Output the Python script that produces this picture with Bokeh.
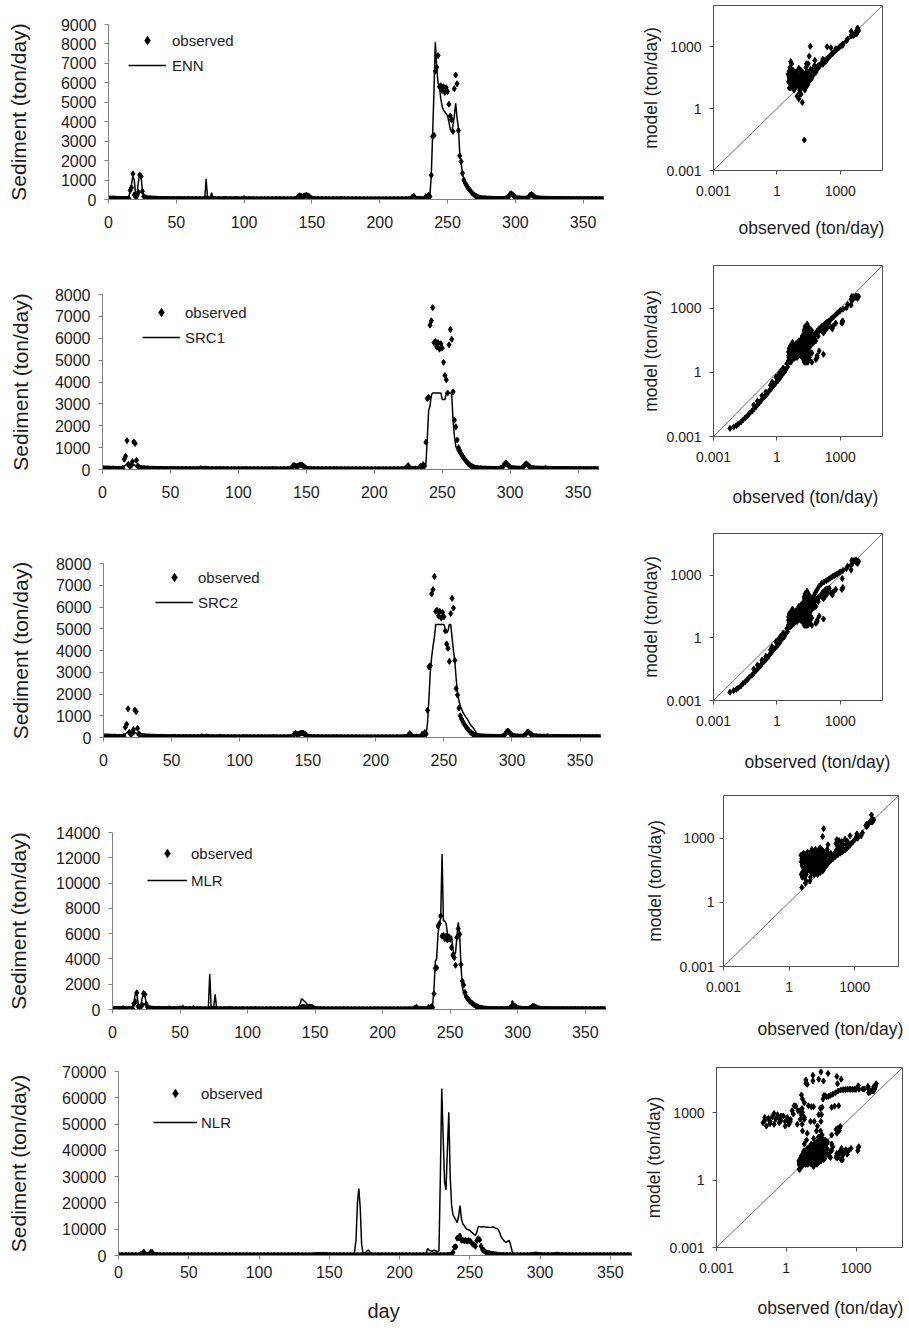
from bokeh.plotting import figure
from bokeh.layouts import column, row
from bokeh.models import (Legend, LegendItem, FixedTicker, Range1d, Title,
                          PrintfTickFormatter, CustomJSTickFormatter)
from bokeh.embed import file_html
from bokeh.resources import INLINE

# ---------------- data (ton/day, daily, day 1..365) ----------------
observed = [
    42, 38, 35, 40, 33, 30, 28, 31, 27, 25,
    24, 26, 22, 21, 55, 470, 610, 1320, 240, 150,
    190, 360, 1260, 1190, 420, 160, 90, 70, 56, 48,
    44, 40, 37, 35, 33, 30, 29, 27, 26, 24,
    23, 22, 25, 21, 20, 19, 18, 20, 17, 16,
    18, 26, 15, 14, 16, 13, 12, 14, 22, 11,
    10, 12, 9.5, 9, 11, 8.5, 8, 9, 7.5, 7,
    12, 38, 30, 16, 11, 34, 24, 13, 9, 8,
    7.5, 7, 6.5, 10, 14, 25, 12, 9, 8, 7,
    6.5, 6, 5.5, 5, 6, 7, 5.5, 5, 4.8, 4.5,
    5, 6, 8, 11, 9, 7, 6, 5.5, 5, 4.6,
    4.3, 4, 4.5, 5, 6, 5, 4.5, 4.2, 4, 3.8,
    3.6, 4, 5, 7, 10, 8, 6, 5, 4.5, 4.2,
    4, 3.8, 3.6, 3.5, 4, 6, 9, 15, 60, 150,
    190, 160, 140, 170, 200, 210, 190, 150, 90, 40,
    25, 18, 14, 11, 9, 8, 7, 6.5, 6, 5.5,
    5, 4.8, 4.6, 4.4, 6, 5.5, 5, 4.8, 4.5, 7,
    14, 8, 5, 4.4, 4, 3.2, 2.6, 2.2, 1.8, 1.5,
    1.3, 1.1, 0.9, 0.75, 0.6, 0.5, 0.42, 0.35, 0.3, 0.25,
    0.2, 0.17, 0.14, 0.12, 0.1, 0.08, 0.065, 0.05, 0.04, 0.032,
    0.025, 0.02, 0.015, 0.012, 0.009, 0.006, 0.3, 0.9, 0.5, 0.2,
    0.12, 0.08, 0.2, 0.6, 1.5, 3, 2, 1.2, 4, 6,
    9, 12, 30, 120, 180, 90, 30, 15, 25, 31,
    14, 7, 40, 150, 63, 230, 160, 1250, 3250, 3300,
    6600, 6800, 7400, 5800, 5850, 5600, 5800, 5500, 5750, 5550,
    4900, 4300, 4100, 3500, 5700, 6400, 5950, 3550, 2250, 1950,
    1350, 1000, 850, 720, 600, 520, 430, 350, 280, 220,
    170, 130, 100, 80, 65, 55, 48, 42, 38, 35,
    33, 31, 30, 28, 27, 26, 25, 24, 23, 22,
    24, 30, 45, 80, 150, 260, 300, 240, 160, 100,
    70, 55, 45, 40, 36, 33, 31, 40, 80, 150,
    230, 260, 200, 140, 90, 60, 48, 42, 38, 35,
    33, 31, 30, 29, 28, 27, 26, 25, 25, 24,
    23, 23, 22, 22, 21, 21, 20, 20, 19, 19,
    18, 18, 18, 17, 17, 16, 16, 16, 15, 15,
    15, 14, 14, 14, 13, 13, 13, 12, 12, 12,
    12, 11, 11, 11, 10,
]

enn = [
    60, 45, 30, 55, 40, 25, 35, 20, 32, 18,
    30, 15, 28, 12, 90, 500, 800, 1200, 1000, 250,
    200, 900, 1300, 1150, 500, 200, 110, 60, 75, 40,
    60, 28, 50, 22, 45, 38, 18, 40, 14, 30,
    35, 12, 40, 30, 0.03, 25, 33, 15, 28, 22,
    10, 45, 20, 5, 30, 18, 8, 25, 40, 16,
    30, 6, 25, 40, 3, 60, 20, 4, 50, 15,
    80, 1050, 150, 60, 90, 350, 100, 40, 30, 60,
    20, 45, 8, 35, 70, 150, 25, 50, 12, 40,
    55, 10, 30, 150, 45, 20, 35, 60, 25, 190,
    30, 60, 15, 40, 25, 50, 12, 35, 80, 20,
    28, 45, 10, 70, 30, 18, 40, 100, 25, 35,
    50, 20, 60, 30, 45, 15, 70, 25, 40, 55,
    30, 65, 20, 45, 35, 25, 50, 60, 120, 200,
    220, 180, 160, 190, 210, 200, 180, 140, 90, 50,
    30, 45, 20, 35, 15, 25, 40, 10, 30, 20,
    25, 15, 35, 12, 30, 20, 40, 18, 25, 35,
    45, 30, 20, 15, 10, -10, -20, -15, -30, -25,
    -40, -35, -20, -45, -30, -50, -40, -35, -50, -45,
    -40, -55, -60, -45, -50, -65, -55, -60, -50, -45,
    -55, -60, -50, -65, -55, -60, -40, -30, -35, -45,
    -50, -45, -40, -30, -20, -10, -15, -25, 10, 20,
    30, 15, 50, 150, 200, 120, 60, 20, 35, 25,
    15, 40, 80, 180, 220, 240, 200, 1250, 3300, 5600,
    8100, 6800, 6000, 5800, 5200, 4800, 4600, 4500, 4400, 4300,
    4000, 3600, 3500, 3800, 4300, 4950, 4200, 3700, 2400, 1900,
    1350, 1050, 900, 780, 650, 560, 470, 390, 310, 250,
    200, 150, 120, 95, 75, 60, 50, 45, 40, 35,
    50, 20, 45, 15, 40, 35, 12, 30, 55, 18,
    40, 25, 60, 100, 180, 280, 320, 260, 170, 110,
    60, 80, 30, 55, 25, 45, 20, 60, 100, 170,
    250, 280, 220, 150, 100, 50, 70, 30, 55, 25,
    45, 20, 50, 15, 40, 30, 60, 12, 35, 45,
    20, 50, 15, 40, 30, 8, 35, 25, 45, 18,
    30, 50, 12, 35, 25, 40, 2, 30, 20, 45,
    15, 35, 25, 10, 40, 20, 30, 5, 25, 35,
    18, 30, 12, 25, 20,
]

src1 = [
    30, 55, 20, 35, 48, 18, 40, 22, 33, 15,
    28, 18, 35, 12, 40, 150, 200, 250, 120, 80,
    90, 130, 220, 200, 110, 70, 50, 30, 45, 25,
    90, 8, 60, 5, 120, 25, 6, 70, 15, 4,
    60, 3, 45, 100, 7, 30, 4, 80, 12, 50,
    30, 9, 25, 15, 6, 20, 28, 7, 18, 24,
    8, 20, 15, 5, 25, 12, 18, 6, 14, 10,
    20, 30, 12, 25, 8, 22, 15, 30, 6, 14,
    18, 5, 12, 25, 8, 35, 15, 6, 20, 10,
    4.5, 15, 8, 20, 6, 12, 25, 4, 10, 18,
    7, 14, 22, 9, 16, 5, 12, 20, 6, 10,
    15, 4, 12, 8, 18, 6, 10, 14, 4.5, 9,
    6, 12, 3.5, 15, 9, 20, 6, 11, 4, 8,
    12, 5, 9, 3.5, 14, 7, 12, 25, 60, 110,
    150, 140, 130, 150, 180, 200, 180, 140, 80, 35,
    20, 30, 12, 22, 8, 15, 5, 12, 9, 4,
    10, 6, 14, 4, 9, 5, 12, 7, 3, 8,
    6, 11, 4, 7, 3, 1.8, 1.3, 1.0, 0.8, 0.6,
    0.5, 0.4, 0.33, 0.26, 0.2, 0.16, 0.13, 0.1, 0.085, 0.07,
    0.055, 0.045, 0.036, 0.03, 0.024, 0.019, 0.015, 0.012, 0.009, 0.0075,
    0.006, 0.0048, 0.0038, 0.0032, 0.0028, 0.0024, 0.12, 0.6, 0.25, 0.08,
    0.045, 0.03, 0.08, 0.35, 1.1, 2.6, 1.6, 0.8, 3.5, 5.5,
    8, 11, 26, 100, 160, 80, 28, 14, 20, 25,
    12, 6, 35, 130, 55, 210, 150, 250, 1400, 2700,
    2900, 3400, 3500, 3500, 3500, 3500, 3500, 3500, 3500, 3200,
    3200, 3200, 3500, 3500, 3500, 3500, 3400, 2200, 1500, 1050,
    900, 780, 680, 580, 490, 420, 360, 300, 250, 210,
    170, 140, 110, 85, 65, 52, 44, 38, 34, 31,
    4, 90, 15, 150, 6, 60, 3, 110, 25, 8,
    12, 40, 8, 5, 120, 200, 230, 190, 7, 10,
    4, 25, 3, 18, 45, 5, 35, 20, 6, 120,
    180, 210, 170, 115, 75, 30, 55, 20, 45, 15,
    120, 5, 70, 3, 40, 180, 9, 55, 4, 90,
    4, 80, 25, 140, 6, 50, 3, 100, 15, 7,
    35, 9, 28, 15, 40, 7, 22, 12, 30, 6,
    20, 10, 35, 8, 18, 25, 6, 15, 28, 9,
    22, 7, 16, 30, 8,
]

src2 = [
    35, 50, 22, 30, 45, 20, 38, 25, 30, 16,
    30, 20, 32, 14, 45, 160, 210, 260, 130, 85,
    95, 140, 230, 210, 115, 75, 55, 32, 48, 28,
    80, 10, 55, 6, 110, 30, 7, 65, 18, 5,
    55, 4, 40, 90, 8, 35, 5, 75, 14, 45,
    28, 10, 27, 16, 7, 22, 26, 8, 20, 22,
    9, 22, 14, 6, 24, 13, 17, 7, 15, 11,
    22, 32, 13, 24, 9, 24, 16, 28, 7, 15,
    17, 6, 13, 24, 9, 33, 16, 7, 19, 11,
    5, 16, 9, 19, 7, 13, 24, 4.5, 11, 17,
    8, 15, 20, 10, 17, 5.5, 13, 19, 7, 11,
    14, 4.5, 13, 9, 17, 7, 11, 13, 5, 10,
    7, 13, 4, 16, 10, 19, 7, 12, 4.5, 9,
    13, 5.5, 10, 4, 15, 8, 13, 27, 65, 120,
    160, 150, 140, 160, 190, 210, 190, 150, 85, 38,
    22, 28, 13, 23, 9, 16, 6, 13, 10, 4.5,
    11, 7, 15, 4.5, 10, 6, 13, 8, 3.5, 9,
    7, 12, 4.5, 8, 3.5, 2, 1.5, 1.1, 0.9, 0.7,
    0.55, 0.45, 0.36, 0.29, 0.22, 0.18, 0.14, 0.11, 0.09, 0.075,
    0.06, 0.048, 0.038, 0.032, 0.026, 0.02, 0.016, 0.013, 0.01, 0.008,
    0.0065, 0.005, 0.004, 0.0034, 0.003, 0.0025, 0.13, 0.65, 0.27, 0.085,
    0.05, 0.032, 0.085, 0.38, 1.2, 2.8, 1.7, 0.85, 3.8, 6,
    9, 12, 28, 110, 170, 85, 30, 15, 22, 27,
    13, 6.5, 38, 140, 60, 220, 160, 700, 1800, 3000,
    3700, 4200, 4600, 5200, 5200, 5200, 5200, 5200, 5200, 5200,
    5000, 4800, 4900, 5200, 5200, 4600, 4000, 3500, 2700, 2100,
    1700, 1450, 1300, 1150, 1050, 950, 870, 750, 640, 550,
    480, 400, 300, 200, 140, 100, 75, 55, 45, 38,
    5, 85, 17, 140, 7, 55, 4, 100, 28, 9,
    13, 42, 9, 6, 130, 210, 240, 200, 8, 11,
    5, 27, 4, 19, 47, 6, 37, 22, 7, 130,
    190, 220, 180, 120, 80, 32, 57, 22, 47, 16,
    110, 6, 65, 4, 45, 170, 10, 50, 5, 85,
    5, 75, 28, 130, 7, 45, 4, 95, 17, 8,
    37, 10, 30, 16, 42, 8, 24, 13, 32, 7,
    22, 11, 37, 9, 19, 27, 7, 16, 30, 10,
    24, 8, 17, 32, 9,
]

mlr = [
    120, 60, 250, 80, 40, 180, 90, 300, 50, 150,
    70, 200, 45, 130, 300, 700, 1300, 1200, 500, 250,
    300, 900, 1300, 1100, 500, 250, 150, 90, 200, 60,
    180, 40, 120, 250, 70, 30, 160, 90, 220, 50,
    100, 280, 35, 150, 60, 200, 25, 120, 80, 300,
    45, 350, 110, 20, 180, 70, 250, 40, 130, 300,
    60, 150, 15, 200, 90, 40, 170, 10, 110, 60,
    200, 2800, 300, 120, 250, 1200, 200, 80, 150, 40,
    130, 60, 200, 25, 100, 180, 250, 70, 140, 30,
    90, 160, 20, 120, 60, 200, 8, 100, 150, 45,
    80, 180, 35, 130, 60, 220, 20, 90, 160, 50,
    110, 25, 170, 70, 140, 15, 200, 60, 100, 5,
    80, 150, 30, 120, 200, 50, 90, 170, 40, 130,
    60, 110, 20, 160, 70, 100, 150, 250, 500, 850,
    780, 650, 560, 420, 320, 350, 260, 200, 150, 80,
    120, 60, 150, 30, 100, 180, 50, 90, 140, 20,
    70, 120, 40, 160, 10, 90, 130, 50, 100, 150,
    200, 60, 30, 110, 50, -20, -40, -60, -30, -50,
    -70, -40, -60, -80, -50, -90, -70, -60, -80, -100,
    -90, -80, -110, -100, -90, -120, -100, -110, -90, -100,
    -110, -120, -100, -130, -110, -120, -80, -60, -70, -90,
    -100, -90, -80, -60, -40, -20, -30, -50, 15, 40,
    80, 150, 60, 200, 220, 150, 90, 40, 120, 70,
    30, 100, 60, 200, 180, 250, 300, 1600, 3800, 4000,
    6000, 6700, 7300, 12300, 7000, 7000, 6800, 6000, 5800, 5800,
    5800, 4800, 4300, 4500, 5800, 6900, 6000, 3500, 1800, 1300,
    1000, 850, 700, 600, 480, 400, 330, 280, 240, 200,
    170, 140, 110, 90, 75, 60, 150, 40, 100, 30,
    120, 50, 200, 70, 30, 150, 90, 250, 60, 110,
    40, 180, 80, 200, 300, 700, 500, 350, 250, 150,
    100, 60, 200, 40, 130, 80, 170, 60, 150, 200,
    280, 300, 250, 180, 120, 90, 200, 50, 140, 70,
    110, 40, 180, 60, 130, 25, 90, 160, 50, 120,
    70, 200, 35, 100, 150, 60, 20, 130, 80, 170,
    45, 110, 60, 150, 30, 90, 200, 50, 120, 70,
    140, 40, 100, 180, 60, 25, 130, 80, 150, 50,
    90, 160, 40, 110, 70,
]

nlr = [
    30, 15, 60, 8, 25, 45, 12, 20, 80, 10,
    18, 35, 9, 50, 15, 20, 25, 30, 18, 12,
    15, 22, 28, 20, 14, 10, 40, 12, 25, 60,
    14, 9, 30, 100, 11, 20, 7, 45, 15, 25,
    8, 35, 12, 18, 150, 10, 25, 6, 40, 14,
    20, 9, 70, 12, 5, 30, 16, 10, 250, 8,
    15, 40, 6, 12, 25, 5, 18, 9, 60, 11,
    20, 30, 15, 400, 10, 25, 40, 15, 8, 120,
    6, 14, 9, 30, 20, 800, 12, 8, 25, 5,
    10, 7, 18, 6, 40, 9, 12, 5, 300, 8,
    6, 15, 10, 25, 12, 8, 500, 6, 9, 4,
    8, 5, 12, 7, 20, 6, 10, 4, 9, 3,
    5, 7, 150, 10, 15, 9, 6, 1000, 5, 8,
    4, 6, 3, 7, 5, 12, 8, 20, 50, 120,
    160, 140, 180, 200, 220, 240, 200, 160, 100, 60,
    30, 15, 10, 400, 8, 6, 12, 5, 600, 7,
    6, 9, 4, 5, 12, 7, 10, 1500, 6000, 20000,
    25500, 18000, 4000, 800, 500, 1200, 1900, 2000, 1200, 400,
    300, 600, 250, 700, 450, 350, 800, 500, 300, 650,
    400, 550, 250, 600, 350, -150, -300, -200, -400, -250,
    -350, -200, -450, -300, -250, -400, 900, 400, 550, 320,
    450, -300, 380, 700, 500, 300, 850, 400, 1200, 2700,
    2000, 1800, 1600, 1900, 2000, 1700, 1500, 1800, 30000, 63500,
    45000, 28000, 25000, 40000, 54500, 30000, 19000, 15500, 14500, 13500,
    12500, 15000, 19000, 14000, 12000, 11400, 10500, 10000, 9800, 9500,
    9000, 8500, 8000, 7600, 9000, 11000, 11000, 10800, 10900, 11000,
    10800, 10700, 10800, 10600, 10700, 10800, 10800, 10500, 10300, 10000,
    9000, 7500, 6500, 5800, 5200, 5000, 5500, 5700, 4000, 1700,
    800, 400, 150, 60, 30, 20, 12, 45, 18, 25,
    15, 10, 35, 20, 12, 8, 15, 25, 10, 30,
    12, 40, 9, 25, 14, 60, 11, 20, 10, 15,
    8, 12, 18, 10, 20, 14, 30, 9, 40, 12,
    20, 7, 35, 15, 50, 10, 25, 6, 18, 80,
    12, 30, 9, 20, 5, 40, 14, 25, 7, 18,
    10, 45, 8, 22, 12, 6, 30, 9, 15, 4,
    20, 8, 12, 35, 6, 18, 10, 25, 5, 14,
    9, 30, 7, 16, 11,
]

days = list(range(1, len(observed) + 1))
day_ticks = [0, 50, 100, 150, 200, 250, 300, 350]
yticks_enn = [0, 1000, 2000, 3000, 4000, 5000, 6000, 7000, 8000, 9000]
yticks_src = [0, 1000, 2000, 3000, 4000, 5000, 6000, 7000, 8000]
yticks_mlr = [0, 2000, 4000, 6000, 8000, 10000, 12000, 14000]
yticks_nlr = [0, 10000, 20000, 30000, 40000, 50000, 60000, 70000]
log_ticks = [0.001, 1, 1000]

for nm, arr in [("observed", observed), ("enn", enn), ("src1", src1),
                ("src2", src2), ("mlr", mlr), ("nlr", nlr)]:
    assert len(arr) == 365, (nm, len(arr))

FONT = "Liberation Sans"
TXT = "#1c1c1c"
AX = "#808080"


def ts_plot(model, name, ymax, yticks, W, H, x0, fw, top, fh, ys, leg, xstand=12, xlab=None):
    bl = x0
    br = W - bl - fw
    bb = H - top - fh
    p = figure(width=W, height=H, x_range=Range1d(0, 365), y_range=Range1d(0, ymax),
               output_backend="svg", toolbar_location=None,
               min_border_left=bl, min_border_right=br,
               min_border_top=top, min_border_bottom=bb)
    p.outline_line_color = None
    p.grid.visible = False
    r_obs = p.scatter(days, observed, marker="diamond", size=6, color="black")
    r_line = p.line(days, model, line_color="black", line_width=1.5)
    xa, ya = p.xaxis[0], p.yaxis[0]
    xa.ticker = FixedTicker(ticks=day_ticks)
    ya.ticker = FixedTicker(ticks=yticks)
    ya.formatter = PrintfTickFormatter(format="%d")
    for ax in (xa, ya):
        ax.axis_line_color = AX
        ax.major_tick_line_color = AX
        ax.major_tick_out = 4
        ax.major_tick_in = 0
        ax.minor_tick_line_color = None
        ax.major_label_text_font = FONT
        ax.major_label_text_font_size = "16px"
        ax.major_label_text_color = TXT
    ya.major_label_standoff = 8
    xa.major_label_standoff = xstand
    ya.axis_label = "Sediment (ton/day)"
    ya.axis_label_text_font = FONT
    ya.axis_label_text_font_size = "21px"
    ya.axis_label_text_font_style = "normal"
    ya.axis_label_text_color = TXT
    ya.axis_label_standoff = ys
    lx, ly, gw, sp, st = leg
    legend = Legend(items=[LegendItem(label="observed", renderers=[r_obs]),
                           LegendItem(label=name, renderers=[r_line])],
                    location=(lx, ly), glyph_width=gw, glyph_height=20,
                    label_height=20, spacing=sp, padding=0, margin=0,
                    label_standoff=st, border_line_color=None,
                    background_fill_alpha=0, label_text_font=FONT,
                    label_text_font_size="15px", label_text_color=TXT)
    p.add_layout(legend)
    if xlab is not None:
        txt, off, stf = xlab
        p.add_layout(Title(text=txt, align="left", offset=off, standoff=stf,
                           text_font=FONT, text_font_size="20px",
                           text_font_style="normal", text_color=TXT), "below")
    return p


def sc_plot(model, W, H, fl, fw, top, fh, xt, ytick_st=8, ylab_st=2):
    bl = fl
    br = W - bl - fw
    bb = H - top - fh
    p = figure(width=W, height=H, x_axis_type="log", y_axis_type="log",
               x_range=Range1d(1e-3, 1e5), y_range=Range1d(1e-3, 1e5),
               output_backend="svg", toolbar_location=None,
               min_border_left=bl, min_border_right=br,
               min_border_top=top, min_border_bottom=bb)
    p.grid.visible = False
    p.outline_line_color = "#505050"
    p.outline_line_width = 1
    xs = [o for o, m in zip(observed, model) if o > 0 and m > 0]
    ys_ = [m for o, m in zip(observed, model) if o > 0 and m > 0]
    p.line([1e-3, 1e5], [1e-3, 1e5], line_color="#6e6e6e", line_width=1)
    p.scatter(xs, ys_, marker="diamond", size=6, color="black")
    fmt = CustomJSTickFormatter(code="return (tick < 1) ? tick.toFixed(3) : tick.toFixed(0);")
    for ax in (p.xaxis[0], p.yaxis[0]):
        ax.ticker = FixedTicker(ticks=log_ticks)
        ax.formatter = fmt
        ax.axis_line_color = None
        ax.major_tick_line_color = "#505050"
        ax.major_tick_out = 4
        ax.major_tick_in = 0
        ax.minor_tick_line_color = None
        ax.major_label_text_font = FONT
        ax.major_label_text_font_size = "14px"
        ax.major_label_text_color = TXT
    p.yaxis[0].major_label_standoff = ytick_st
    p.xaxis[0].major_label_standoff = 11
    ya = p.yaxis[0]
    ya.axis_label = "model (ton/day)"
    ya.axis_label_text_font = FONT
    ya.axis_label_text_font_size = "17.5px"
    ya.axis_label_text_font_style = "normal"
    ya.axis_label_text_color = TXT
    ya.axis_label_standoff = ylab_st
    off, stf = xt
    p.add_layout(Title(text="observed (ton/day)", align="left", offset=off, standoff=stf,
                       text_font=FONT, text_font_size="17.5px", text_font_style="normal",
                       text_color=TXT), "below")
    return p


rows = []
# row 1 ENN
rows.append(row(
    column(ts_plot(enn, "ENN", 9000, yticks_enn, 628, 260, 108, 495, 24, 175, 28, (20, 124, 38, 5, 6))),
    column(sc_plot(enn, 281, 260, 85, 169, 5, 165, (25, 34)))))
# row 2 SRC1
rows.append(row(
    column(ts_plot(src1, "SRC1", 8000, yticks_src, 628, 270, 102, 496, 34, 175, 20, (40, 122, 38, 5, 5))),
    column(sc_plot(src1, 281, 270, 85, 169, 5, 171, (19, 41)))))
# row 3 SRC2
rows.append(row(
    column(ts_plot(src2, "SRC2", 8000, yticks_src, 628, 262, 103, 497, 33, 174, 21, (52, 125, 38, 5, 5))),
    column(sc_plot(src2, 281, 262, 85, 169, 3, 169, (31, 42)))))
# row 4 MLR
rows.append(row(
    column(ts_plot(mlr, "MLR", 14000, yticks_mlr, 628, 268, 112, 493, 40, 177, 23, (35, 119, 40, 7, 4))),
    column(sc_plot(mlr, 281, 268, 95, 175, 3, 173, (34, 44), ytick_st=5, ylab_st=11))))
# row 5 NLR
rows.append(row(
    column(ts_plot(nlr, "NLR", 70000, yticks_nlr, 638, 278, 118, 513, 11, 184, 29, (35, 123, 44, 9, 4),
                   xstand=6, xlab=("day", 249, 34))),
    column(sc_plot(nlr, 271, 278, 78, 186, 7, 182, (41, 41)))))

layout = column(*rows)
open("out.html", "w").write(file_html(layout, INLINE))
